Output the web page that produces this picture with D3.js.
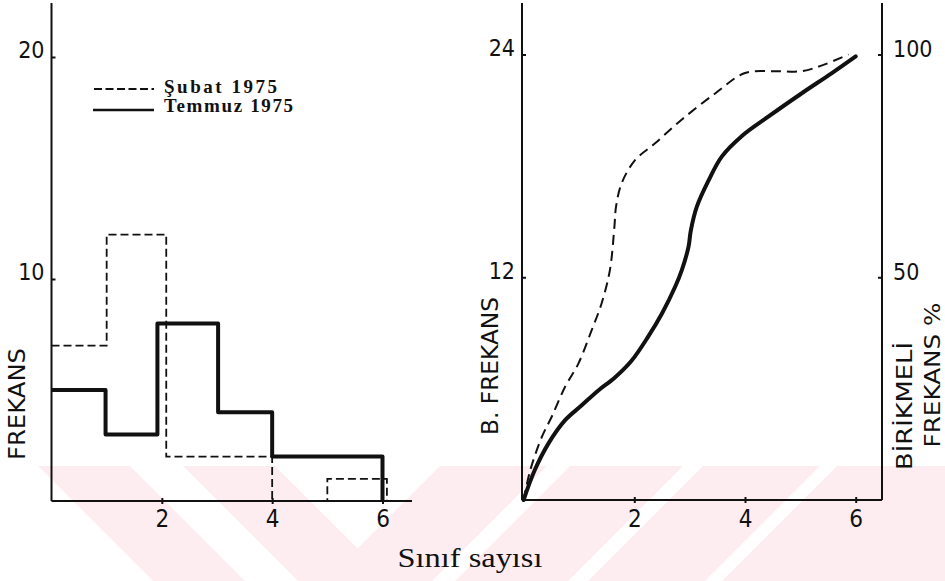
<!DOCTYPE html>
<html>
<head>
<meta charset="utf-8">
<script src="https://cdn.jsdelivr.net/npm/d3@7"></script>
<style>
  body { margin: 0; background: #fff; }
  .tick text { font-family: "DejaVu Sans Condensed", "DejaVu Sans", sans-serif; fill: #111; }
  .lab { font-family: "DejaVu Sans", sans-serif; fill: #111; }
</style>
</head>
<body>
<div class="chart"></div>
<script>
// histogram classes (frequency per class)
var subat = [7, 12, 2, 2, 0, 1];
var temmuz = [5, 3, 8, 4, 2, 2];
// class edges as drawn (the hand drawn bars are a bit off)
var subatEdges = [0, 1, 2.08, 3, 4, 5, 6.08];
var temmuzEdges = [0, 0.98, 1.92, 3.02, 4, 5, 6];

// cumulative curves
var subatCumX = [0, 0.12, 0.33, 0.51, 0.75, 0.99, 1.23, 1.41, 1.56, 1.64, 1.67, 1.77, 2.01, 2.37, 2.86, 3.46, 4.0, 4.54, 5.02, 5.38, 5.87];
var subatCumY = [0, 1.6, 3.4, 4.5, 6.1, 7.35, 9.15, 10.6, 12.4, 14.7, 15.8, 17.05, 18.3, 19.2, 20.5, 21.9, 23.0, 23.1, 23.1, 23.4, 24.0];
var temmuzCumX = [0, 0.2, 0.45, 0.75, 1.05, 1.35, 1.65, 1.95, 2.25, 2.5, 2.74, 2.86, 2.98, 3.02, 3.13, 3.34, 3.58, 3.94, 4.42, 5.02, 5.57, 6.0];
var temmuzCumY = [0, 1.6, 3.05, 4.3, 5.1, 5.9, 6.6, 7.5, 8.8, 10.05, 11.5, 12.4, 13.65, 14.5, 15.8, 17.2, 18.5, 19.6, 20.65, 21.9, 23.0, 23.9];

var xTicks = [2, 4, 6];
var leftYTicks = [10, 20];
var rightYTicks = [12, 24];
var percentTicks = [50, 100];

var width = 945, height = 581;

var svg = d3.select("div.chart").append("svg")
    .attr("width", width)
    .attr("height", height);

// faint watermark stripes at the bottom
var wmTop = 466, wmBot = 581, wmH = wmBot - wmTop;
var back = [[38, 130], [183, 275]];          // "\" stripes
var fwd = [[440, 547], [570, 683], [703, 820], [837, 1100]]; // "/" stripes
var wm = svg.append("g").attr("fill", "#fdedf0");
back.forEach(function (s) {
    wm.append("polygon").attr("points",
        [[s[0], wmTop], [s[1], wmTop], [s[1] + wmH, wmBot], [s[0] + wmH, wmBot]].join(" "));
});
fwd.forEach(function (s) {
    wm.append("polygon").attr("points",
        [[s[0], wmTop], [s[1], wmTop], [s[1] - wmH, wmBot], [s[0] - wmH, wmBot]].join(" "));
});

// ---------- left: histogram ----------
var xL = d3.scaleLinear().domain([0, 6]).range([51.5, 382.5]);
var yL = d3.scaleLinear().domain([0, 20]).range([501, 57]);

var left = svg.append("g");

function stepPoints(vals, edges) {
    var pts = vals.map(function (v, i) { return [edges[i], v]; });
    pts.push([edges[edges.length - 1], 0]);
    return pts;
}

var stepLine = d3.line()
    .x(function (d) { return xL(d[0]); })
    .y(function (d) { return yL(d[1]); })
    .curve(d3.curveStepAfter);

left.append("path")
    .attr("d", stepLine(stepPoints(subat, subatEdges)))
    .attr("fill", "none").attr("stroke", "#111")
    .attr("stroke-width", 1.8).attr("stroke-dasharray", "8,4");

left.append("path")
    .attr("d", stepLine(stepPoints(temmuz, temmuzEdges)))
    .attr("fill", "none").attr("stroke", "#111")
    .attr("stroke-width", 4).attr("stroke-linejoin", "round");

// axes lines
left.append("line").attr("x1", xL(0)).attr("x2", xL(0)).attr("y1", 3).attr("y2", yL(0))
    .attr("stroke", "#111").attr("stroke-width", 2);
left.append("line").attr("x1", xL(0)).attr("x2", 412).attr("y1", yL(0)).attr("y2", yL(0))
    .attr("stroke", "#111").attr("stroke-width", 2);

var axL = left.append("g").attr("transform", "translate(" + xL(0) + ",0)")
    .call(d3.axisLeft(yL).tickValues(leftYTicks).tickSize(-4).tickPadding(7).tickFormat(d3.format("d")));
axL.select(".domain").remove();
axL.selectAll(".tick line").attr("stroke", "#111").attr("stroke-width", 2);
axL.selectAll(".tick text").attr("font-size", 23).attr("dy", "0em");

var axLx = left.append("g").attr("transform", "translate(0," + yL(0) + ")")
    .call(d3.axisBottom(xL).tickValues(xTicks).tickSize(3).tickPadding(6).tickFormat(d3.format("d")));
axLx.select(".domain").remove();
axLx.selectAll(".tick line").attr("stroke", "#111").attr("stroke-width", 2).attr("y1", -3);
axLx.selectAll(".tick text").attr("font-size", 24);

left.append("text").attr("class", "lab")
    .attr("transform", "translate(25,404) rotate(-90)")
    .attr("text-anchor", "middle").attr("font-size", 23)
    .attr("textLength", 112).attr("lengthAdjust", "spacingAndGlyphs")
    .text("FREKANS");

// legend
var lg = left.append("g");
lg.append("line").attr("x1", 94).attr("x2", 154).attr("y1", 89).attr("y2", 89)
    .attr("stroke", "#111").attr("stroke-width", 1.8).attr("stroke-dasharray", "8,3.5");
lg.append("line").attr("x1", 93).attr("x2", 154).attr("y1", 110).attr("y2", 110)
    .attr("stroke", "#111").attr("stroke-width", 2.5);
lg.append("text").attr("x", 164).attr("y", 93)
    .attr("font-family", "Liberation Serif, serif").attr("font-weight", "bold").attr("font-size", 19)
    .attr("textLength", 113).attr("lengthAdjust", "spacing").attr("fill", "#111")
    .text("Şubat  1975");
lg.append("text").attr("x", 164).attr("y", 112)
    .attr("font-family", "Liberation Serif, serif").attr("font-weight", "bold").attr("font-size", 19)
    .attr("textLength", 129).attr("lengthAdjust", "spacing").attr("fill", "#111")
    .text("Temmuz  1975");

// ---------- right: cumulative curves ----------
var xR = d3.scaleLinear().domain([0, 6]).range([523.6, 855.7]);
var yR = d3.scaleLinear().domain([0, 24]).range([500, 54.5]);
var yP = d3.scaleLinear().domain([0, 100]).range([500, 54.5]);

var right = svg.append("g");

var curve = d3.line()
    .x(function (d) { return xR(d[0]); })
    .y(function (d) { return yR(d[1]); })
    .curve(d3.curveCatmullRom.alpha(0.5));

right.append("path")
    .attr("d", curve(d3.zip(subatCumX, subatCumY)))
    .attr("fill", "none").attr("stroke", "#111")
    .attr("stroke-width", 2).attr("stroke-dasharray", "10,6");

right.append("path")
    .attr("d", curve(d3.zip(temmuzCumX, temmuzCumY)))
    .attr("fill", "none").attr("stroke", "#111")
    .attr("stroke-width", 4).attr("stroke-linecap", "round");

right.append("line").attr("x1", 522).attr("x2", 522).attr("y1", 3).attr("y2", yR(0))
    .attr("stroke", "#111").attr("stroke-width", 2);
right.append("line").attr("x1", 882).attr("x2", 882).attr("y1", 3).attr("y2", yR(0))
    .attr("stroke", "#111").attr("stroke-width", 2);
right.append("line").attr("x1", 522).attr("x2", 882).attr("y1", yR(0)).attr("y2", yR(0))
    .attr("stroke", "#111").attr("stroke-width", 2);

var axR = right.append("g").attr("transform", "translate(522,0)")
    .call(d3.axisLeft(yR).tickValues(rightYTicks).tickSize(-4).tickPadding(7).tickFormat(d3.format("d")));
axR.select(".domain").remove();
axR.selectAll(".tick line").attr("stroke", "#111").attr("stroke-width", 2);
axR.selectAll(".tick text").attr("font-size", 23).attr("dy", "0.05em");

var axP = right.append("g").attr("transform", "translate(882,0)")
    .call(d3.axisRight(yP).tickValues(percentTicks).tickSize(-4).tickPadding(11).tickFormat(d3.format("d")));
axP.select(".domain").remove();
axP.selectAll(".tick line").attr("stroke", "#111").attr("stroke-width", 2);
axP.selectAll(".tick text").attr("font-size", 23).attr("dy", "0.1em");

var axRx = right.append("g").attr("transform", "translate(0," + yR(0) + ")")
    .call(d3.axisBottom(xR).tickValues(xTicks).tickSize(3).tickPadding(7).tickFormat(d3.format("d")));
axRx.select(".domain").remove();
axRx.selectAll(".tick line").attr("stroke", "#111").attr("stroke-width", 2).attr("y1", -3);
axRx.selectAll(".tick text").attr("font-size", 24);

right.append("text").attr("class", "lab")
    .attr("transform", "translate(498,366) rotate(-90)")
    .attr("text-anchor", "middle").attr("font-size", 23)
    .attr("textLength", 138).attr("lengthAdjust", "spacingAndGlyphs")
    .text("B. FREKANS");
right.append("text").attr("class", "lab")
    .attr("transform", "translate(912,406) rotate(-90)")
    .attr("text-anchor", "middle").attr("font-size", 22)
    .attr("textLength", 128).attr("lengthAdjust", "spacingAndGlyphs")
    .text("BİRİKMELİ");
right.append("text").attr("class", "lab")
    .attr("transform", "translate(940,375) rotate(-90)")
    .attr("text-anchor", "middle").attr("font-size", 21)
    .attr("textLength", 145).attr("lengthAdjust", "spacingAndGlyphs")
    .text("FREKANS %");

// shared x label
svg.append("text")
    .attr("x", 470).attr("y", 567)
    .attr("text-anchor", "middle")
    .attr("font-family", "Liberation Serif, serif").attr("font-size", 27)
    .attr("textLength", 145).attr("lengthAdjust", "spacingAndGlyphs")
    .attr("fill", "#111")
    .text("Sınıf sayısı");
</script>
</body>
</html>
